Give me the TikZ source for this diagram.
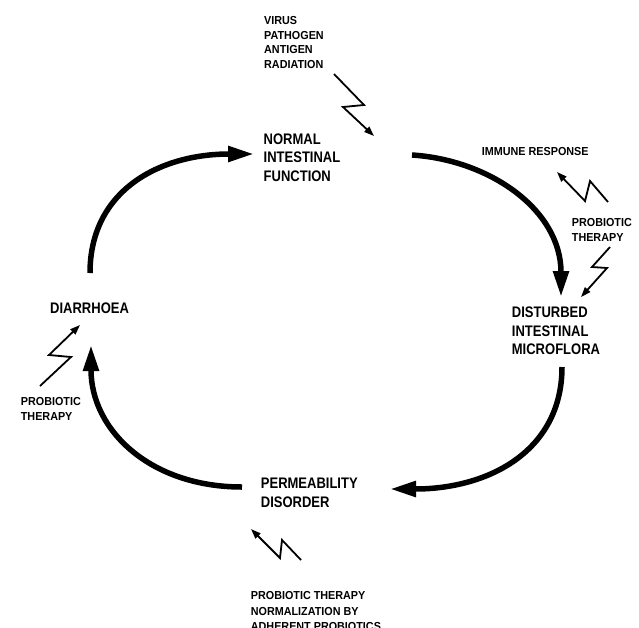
\documentclass[tikz,border=0pt]{standalone}
\usepackage{fontspec}
\setmainfont{Liberation Sans}
\newfontfamily\bigfont[FakeStretch=0.85]{Liberation Sans}
\newfontfamily\smallfont[FakeStretch=0.93]{Liberation Sans}
\usetikzlibrary{arrows.meta}
\begin{document}
\begin{tikzpicture}[x=1pt,y=-1pt,
  biglabel/.style={anchor=base west,inner sep=0pt,align=left,font=\bigfont\bfseries\fontsize{15.3}{18.5}\selectfont},
  smalllabel/.style={anchor=base west,inner sep=0pt,align=left,font=\smallfont\bfseries\fontsize{11.6}{14.8}\selectfont},
  cyclearrow/.style={line width=5.5pt,-{Triangle[length=26pt,width=15pt]}},
  bolt/.style={line width=1.8pt,line join=miter,-{Triangle[length=10pt,width=7pt]}}]
\clip (0,0) rectangle (639,627);
\fill[white] (0,0) rectangle (639,627);

% main labels (anchor = baseline of the last line)
\node[biglabel] (normal) at (263.5,181) {NORMAL\\INTESTINAL\\FUNCTION};
\node[biglabel] (disturbed) at (511.7,354.8) {DISTURBED\\INTESTINAL\\MICROFLORA};
\node[biglabel] (perm) at (260.7,507.3) {PERMEABILITY\\DISORDER};
\node[biglabel] (diarr) at (50,313.2) {DIARRHOEA};

% side labels
\node[smalllabel] (virus) at (264,68.6) {VIRUS\\PATHOGEN\\ANTIGEN\\RADIATION};
\node[smalllabel] (immune) at (481.7,155.9) {IMMUNE RESPONSE};
\node[smalllabel] (probR) at (571.7,241.3) {PROBIOTIC\\THERAPY};
\node[smalllabel] (probL) at (20.7,420.6) {PROBIOTIC\\THERAPY};
\node[smalllabel,font=\smallfont\bfseries\fontsize{11.6}{15.8}\selectfont] (probB) at (250.7,630.8) {PROBIOTIC THERAPY\\NORMALIZATION BY\\ADHERENT PROBIOTICS};

% cycle arrow end points
\coordinate (a1s) at (90,273);
\coordinate (a1e) at (254,154);
\coordinate (a2s) at (412,155);
\coordinate (a2e) at (561,297);
\coordinate (a3s) at (562,367);
\coordinate (a3e) at (390,489);
\coordinate (a4s) at (242,487);
\coordinate (a4e) at (91,345);

\draw[cyclearrow] (a1s) .. controls (90,190) and (160,154) .. (a1e);
\draw[cyclearrow] (a2s) .. controls (490,160) and (561,210) .. (a2e);
\draw[cyclearrow] (a3s) .. controls (562,450) and (490,489) .. (a3e);
\draw[cyclearrow] (a4s) .. controls (150,487) and (91,430) .. (a4e);

% lightning bolts
\coordinate (b1s) at (334,74);   \coordinate (b1e) at (374,136);
\coordinate (b2s) at (608,202);  \coordinate (b2e) at (557,172);
\coordinate (b3s) at (610,247);  \coordinate (b3e) at (581,297);
\coordinate (b4s) at (40,386);   \coordinate (b4e) at (80,325);
\coordinate (b5s) at (301,560);  \coordinate (b5e) at (251,529);

\draw[bolt] (b1s) -- (364,105) -- (343,107) -- (b1e);
\draw[bolt] (b2s) -- (590,181) -- (585,201) -- (b2e);
\draw[bolt] (b3s) -- (592,267) -- (607,268) -- (b3e);
\draw[bolt] (b4s) -- (71,357) -- (49,355) -- (b4e);
\draw[bolt] (b5s) -- (282,540) -- (280,558) -- (b5e);
\end{tikzpicture}
\end{document}
